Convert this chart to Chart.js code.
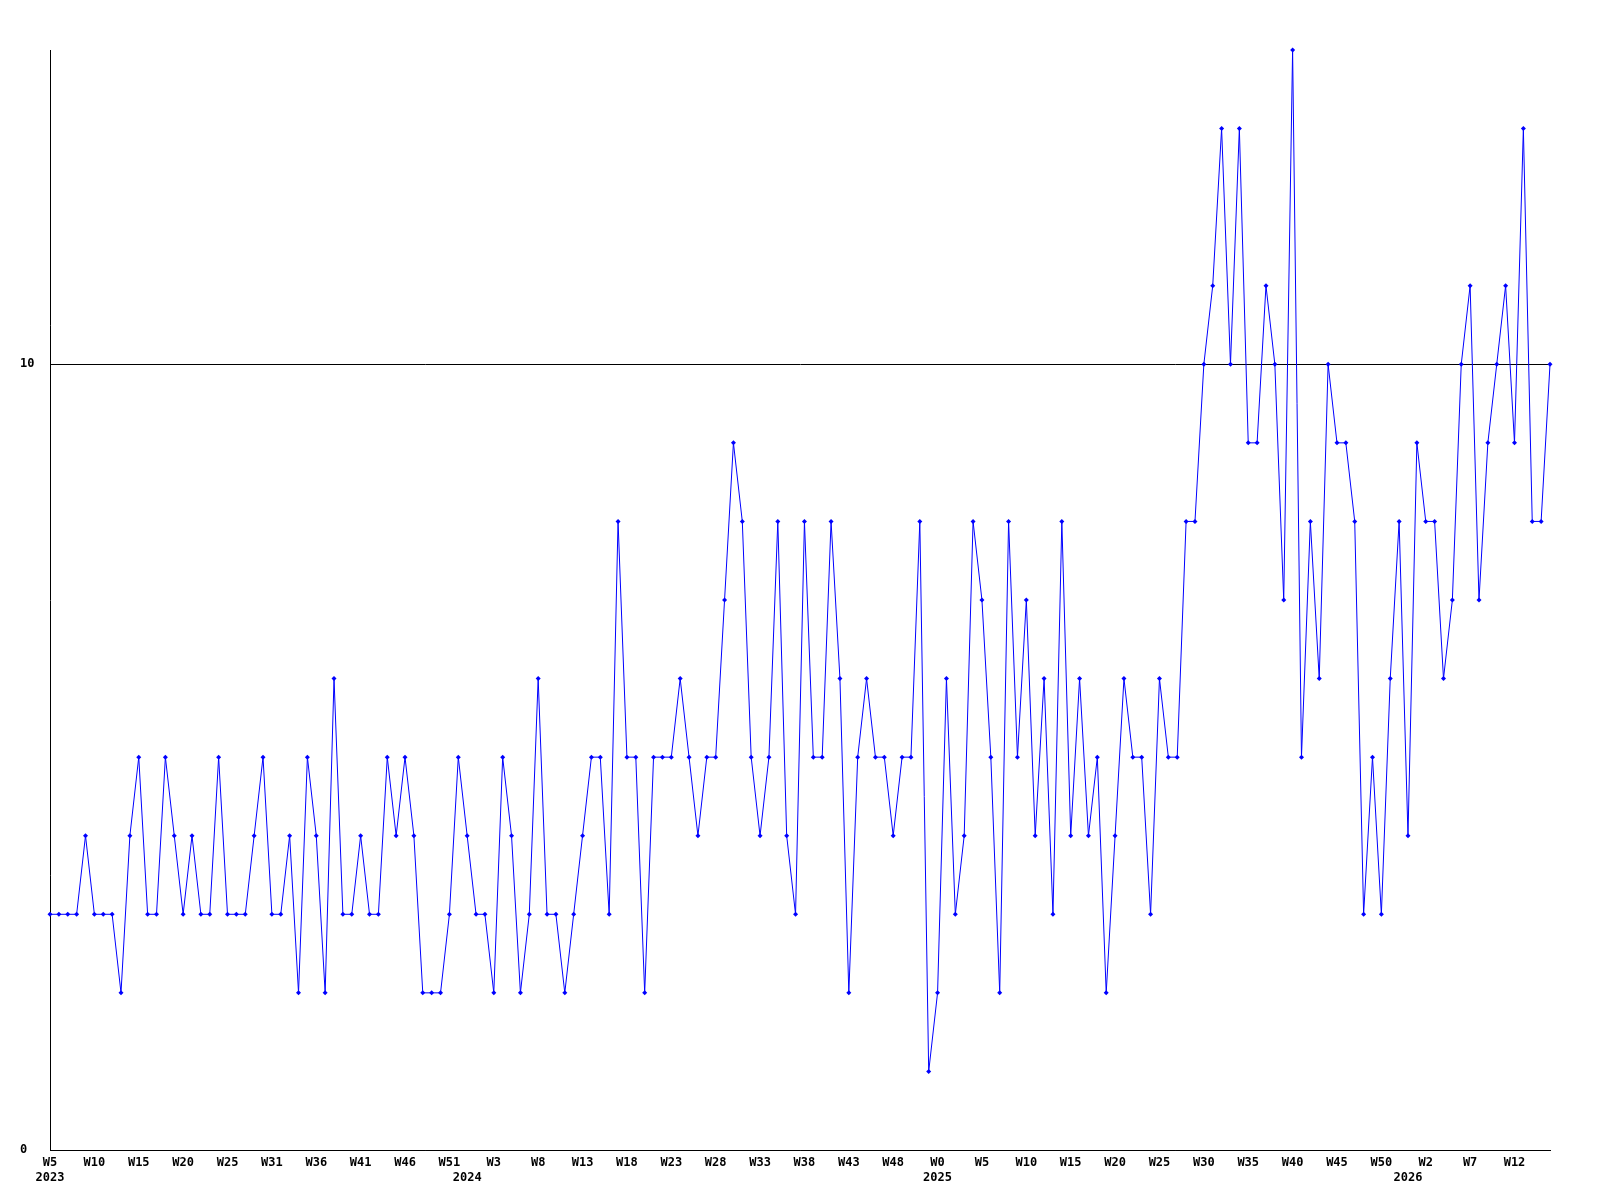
<!DOCTYPE html>
<html><head><meta charset="utf-8">
<script src="https://cdn.jsdelivr.net/npm/chart.js@4/dist/chart.umd.min.js"></script>
<style>html,body{margin:0;padding:0;background:#fff}canvas{display:block}</style>
</head><body>
<canvas id="c" width="1600" height="1200"></canvas>
<script>
const years = [2023, 2024, 2025, 2026];
const weeks2023 = [5,6,7,8,9,10,11,12,13,14,15,16,17,18,19,20,21,22,23,24,25,26,27,28,30,31,32,33,34,35,36,37,38,39,40,41,42,43,44,45,46,47,48,49,50,51,52];
const weeks2024 = [0,1,2,3,4,5,6,7,8,9,10,11,12,13,14,15,16,17,18,19,20,21,22,23,24,25,26,27,28,29,30,31,32,33,34,35,36,37,38,39,40,41,42,43,44,45,46,47,48,49,50,51,52];
const weeks2025 = [0,1,2,3,4,5,6,7,8,9,10,11,12,13,14,15,16,17,18,19,20,21,22,23,24,25,26,27,28,29,30,31,32,33,34,35,36,37,38,39,40,41,42,43,44,45,46,47,48,49,50,51,52];
const weeks2026 = [0,1,2,3,4,5,6,7,8,9,10,11,12,13,14,15,16];

const values2023 = [3,3,3,3,4,3,3,3,2,4, 5,3,3,5,4,3,4,3,3,5, 3,3,3,4,5,3,3,4,2,5, 4,2,6,3,3,4,3,3,5,4, 5,4,2,2,2,3,5];
const values2024 = [4,3,3, 2,5,4,2,3,6,3,3,2,3, 4,5,5,3,8,5,5,2,5,5, 5,6,5,4,5,5,7,9,8,5, 4,5,8,4,3,8,5,5,8,6, 2,5,6,5,5,4,5,5,8,1];
const values2025 = [2,6,3,4,8,7,5,2,8,5, 7,4,6,3,8,4,6,4,5,2, 4,6,5,5,3,6,5,5,8,8, 10,11,13,10,13,9,9,11,10,7, 14,5,8,6,10,9,9,8,3,5, 3,6,8];
const values2026 = [4,9,8,8,6,7,10, 11,7,9,10,11,9,13,8,8,10];

const labelEvery = 5;
const yTickValues = [0, 10];
const yMin = 0, yMax = 14;

const weeksByYear = [weeks2023, weeks2024, weeks2025, weeks2026];
const valuesByYear = [values2023, values2024, values2025, values2026];
const categories = [], categoryYears = [], values = [];
weeksByYear.forEach((wk, k) => wk.forEach((w, j) => {
  categories.push('W' + w);
  categoryYears.push(years[k]);
  values.push(valuesByYear[k][j]);
}));

function tickLabel(i) {
  const firstOfYear = i === 0 || categoryYears[i] !== categoryYears[i - 1];
  const showWeek = i % labelEvery === 0;
  if (!showWeek && !firstOfYear) return '';
  return [showWeek ? categories[i] : '', firstOfYear ? String(categoryYears[i]) : ''];
}

const font = { family: 'DejaVu Sans Mono', size: 12, weight: 'bold', lineHeight: 1.25 };

new Chart(document.getElementById('c').getContext('2d'), {
  type: 'line',
  data: {
    labels: categories,
    datasets: [{
      data: values,
      borderColor: '#0000ff',
      backgroundColor: '#0000ff',
      borderWidth: 1,
      pointStyle: 'rectRot',
      pointRadius: 2.5,
      pointBorderWidth: 0,
      pointBackgroundColor: '#0000ff',
      tension: 0,
      fill: false,
      clip: false
    }]
  },
  options: {
    responsive: false,
    animation: false,
    devicePixelRatio: 1,
    layout: { padding: { left: 20, top: 50, right: 50, bottom: 0 } },
    plugins: { legend: { display: false }, tooltip: { enabled: false } },
    scales: {
      x: {
        type: 'category',
        offset: false,
        grid: { display: false, drawTicks: false },
        border: { display: true, color: '#000', width: 1 },
        ticks: {
          autoSkip: false, maxRotation: 0, minRotation: 0, padding: 5,
          color: '#000', font: font,
          callback: (v, i) => tickLabel(i)
        },
        afterFit: (s) => { s.height = 50; }
      },
      y: {
        min: yMin, max: yMax,
        grid: { color: '#000', lineWidth: 1, drawTicks: false },
        border: { display: true, color: '#000', width: 1 },
        ticks: { crossAlign: 'far', padding: 0, color: '#000', font: font },
        afterBuildTicks: (s) => { s.ticks = yTickValues.map(v => ({ value: v })); },
        afterFit: (s) => { s.width = 30; }
      }
    }
  }
});
</script>
</body></html>
